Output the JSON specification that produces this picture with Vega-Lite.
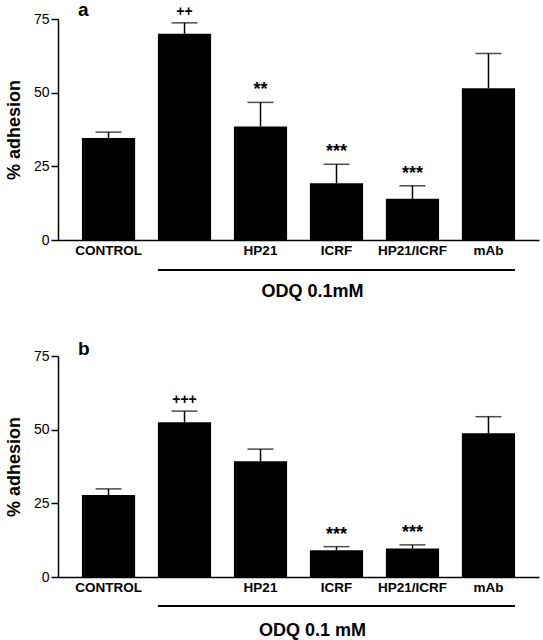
{
  "$schema": "https://vega.github.io/schema/vega-lite/v6.json",
  "padding": {"left": 5, "top": 1, "right": 5, "bottom": 5},
  "config": {
    "font": "Liberation Sans",
    "view": {"stroke": null}
  },
  "datasets": {
    "bars": [
      {"panel": "a", "group": "CONTROL", "value": 34.6, "hi": 36.6, "sig": ""},
      {"panel": "a", "group": "ODQ", "value": 70.0, "hi": 73.7, "sig": "++"},
      {"panel": "a", "group": "HP21", "value": 38.5, "hi": 46.7, "sig": "**"},
      {"panel": "a", "group": "ICRF", "value": 19.3, "hi": 25.7, "sig": "***"},
      {"panel": "a", "group": "HP21/ICRF", "value": 14.0, "hi": 18.4, "sig": "***"},
      {"panel": "a", "group": "mAb", "value": 51.5, "hi": 63.3, "sig": ""},
      {"panel": "b", "group": "CONTROL", "value": 27.8, "hi": 29.9, "sig": ""},
      {"panel": "b", "group": "ODQ", "value": 52.5, "hi": 56.3, "sig": "+++"},
      {"panel": "b", "group": "HP21", "value": 39.3, "hi": 43.4, "sig": ""},
      {"panel": "b", "group": "ICRF", "value": 9.1, "hi": 10.3, "sig": "***"},
      {"panel": "b", "group": "HP21/ICRF", "value": 9.7, "hi": 10.9, "sig": "***"},
      {"panel": "b", "group": "mAb", "value": 48.8, "hi": 54.4, "sig": ""}
    ],
    "odq": [
      {"panel": "a", "from": "ODQ", "to": "mAb", "center": "ICRF", "liney": -10.2, "texty": -17.6, "label": "ODQ 0.1mM"},
      {"panel": "b", "from": "ODQ", "to": "mAb", "center": "ICRF", "liney": -9.8, "texty": -18.3, "label": "ODQ 0.1 mM"}
    ],
    "letters": [
      {"panel": "a", "at": "CONTROL", "y": 76, "letter": "a"},
      {"panel": "b", "at": "CONTROL", "y": 75.2, "letter": "b"}
    ]
  },
  "vconcat": [
    {
      "width": 481,
      "height": 221,
      "layer": [
        {
          "data": {"name": "bars"},
          "transform": [{"filter": "datum.panel == 'a'"}],
          "mark": {"type": "bar", "color": "black"},
          "encoding": {
            "x": {"field": "group", "type": "nominal",
              "scale": {"domain": ["CONTROL", "ODQ", "HP21", "ICRF", "HP21/ICRF", "mAb"], "paddingInner": 0.3, "paddingOuter": 0.315},
              "axis": {"title": null, "ticks": false, "labelAngle": 0, "labelFontSize": 13.5, "labelFontWeight": "bold", "labelColor": "black", "labelPadding": 3, "domainColor": "black", "domainWidth": 1.5, "labelExpr": "datum.value == 'ODQ' ? '' : datum.value"}},
            "y": {"field": "value", "type": "quantitative",
              "scale": {"domain": [0, 75], "nice": false},
              "axis": {"values": [0, 25, 50, 75], "grid": false, "title": "% adhesion", "titleFontSize": 18, "titleFontWeight": "bold", "titleColor": "black", "titlePadding": 10, "labelFontSize": 14, "labelColor": "black", "labelPadding": 2, "tickSize": 7, "tickColor": "black", "tickWidth": 1.5, "domainColor": "black", "domainWidth": 1.5}}
          }
        },
        {
          "data": {"name": "bars"},
          "transform": [{"filter": "datum.panel == 'a'"}],
          "mark": {"type": "rule", "color": "black", "strokeWidth": 1.5},
          "encoding": {"x": {"field": "group", "type": "nominal"}, "y": {"field": "value", "type": "quantitative"}, "y2": {"field": "hi"}}
        },
        {
          "data": {"name": "bars"},
          "transform": [{"filter": "datum.panel == 'a'"}],
          "mark": {"type": "tick", "color": "black", "size": 26, "thickness": 1.5},
          "encoding": {"x": {"field": "group", "type": "nominal"}, "y": {"field": "hi", "type": "quantitative"}}
        },
        {
          "data": {"name": "bars"},
          "transform": [{"filter": "datum.panel == 'a' && datum.sig != ''"}],
          "mark": {"type": "text", "color": "black", "fontWeight": "bold", "baseline": "alphabetic", "dy": -7},
          "encoding": {"x": {"field": "group", "type": "nominal"}, "y": {"field": "hi", "type": "quantitative"}, "text": {"field": "sig"},
            "size": {"condition": {"test": "indexof(datum.sig, '*') >= 0", "value": 18}, "value": 14}}
        },
        {
          "data": {"name": "odq"},
          "transform": [{"filter": "datum.panel == 'a'"}],
          "mark": {"type": "rule", "color": "black", "strokeWidth": 2},
          "encoding": {"x": {"field": "from", "type": "nominal", "bandPosition": 0}, "x2": {"field": "to", "bandPosition": 1}, "y": {"field": "liney", "type": "quantitative"}}
        },
        {
          "data": {"name": "odq"},
          "transform": [{"filter": "datum.panel == 'a'"}],
          "mark": {"type": "text", "color": "black", "fontWeight": "bold", "fontSize": 18, "baseline": "middle", "dx": -24},
          "encoding": {"x": {"field": "center", "type": "nominal"}, "y": {"field": "texty", "type": "quantitative"}, "text": {"field": "label"}}
        },
        {
          "data": {"name": "letters"},
          "transform": [{"filter": "datum.panel == 'a'"}],
          "mark": {"type": "text", "color": "black", "fontWeight": "bold", "fontSize": 19, "baseline": "alphabetic", "align": "left", "dx": -4},
          "encoding": {"x": {"field": "at", "type": "nominal", "bandPosition": 0}, "y": {"field": "y", "type": "quantitative"}, "text": {"field": "letter"}}
        }
      ]
    },
    {
      "width": 481,
      "height": 221,
      "layer": [
        {
          "data": {"name": "bars"},
          "transform": [{"filter": "datum.panel == 'b'"}],
          "mark": {"type": "bar", "color": "black"},
          "encoding": {
            "x": {"field": "group", "type": "nominal",
              "scale": {"domain": ["CONTROL", "ODQ", "HP21", "ICRF", "HP21/ICRF", "mAb"], "paddingInner": 0.3, "paddingOuter": 0.315},
              "axis": {"title": null, "ticks": false, "labelAngle": 0, "labelFontSize": 13.5, "labelFontWeight": "bold", "labelColor": "black", "labelPadding": 3, "domainColor": "black", "domainWidth": 1.5, "labelExpr": "datum.value == 'ODQ' ? '' : datum.value"}},
            "y": {"field": "value", "type": "quantitative",
              "scale": {"domain": [0, 75], "nice": false},
              "axis": {"values": [0, 25, 50, 75], "grid": false, "title": "% adhesion", "titleFontSize": 18, "titleFontWeight": "bold", "titleColor": "black", "titlePadding": 10, "labelFontSize": 14, "labelColor": "black", "labelPadding": 2, "tickSize": 7, "tickColor": "black", "tickWidth": 1.5, "domainColor": "black", "domainWidth": 1.5}}
          }
        },
        {
          "data": {"name": "bars"},
          "transform": [{"filter": "datum.panel == 'b'"}],
          "mark": {"type": "rule", "color": "black", "strokeWidth": 1.5},
          "encoding": {"x": {"field": "group", "type": "nominal"}, "y": {"field": "value", "type": "quantitative"}, "y2": {"field": "hi"}}
        },
        {
          "data": {"name": "bars"},
          "transform": [{"filter": "datum.panel == 'b'"}],
          "mark": {"type": "tick", "color": "black", "size": 26, "thickness": 1.5},
          "encoding": {"x": {"field": "group", "type": "nominal"}, "y": {"field": "hi", "type": "quantitative"}}
        },
        {
          "data": {"name": "bars"},
          "transform": [{"filter": "datum.panel == 'b' && datum.sig != ''"}],
          "mark": {"type": "text", "color": "black", "fontWeight": "bold", "baseline": "alphabetic", "dy": -7},
          "encoding": {"x": {"field": "group", "type": "nominal"}, "y": {"field": "hi", "type": "quantitative"}, "text": {"field": "sig"},
            "size": {"condition": {"test": "indexof(datum.sig, '*') >= 0", "value": 18}, "value": 14}}
        },
        {
          "data": {"name": "odq"},
          "transform": [{"filter": "datum.panel == 'b'"}],
          "mark": {"type": "rule", "color": "black", "strokeWidth": 2},
          "encoding": {"x": {"field": "from", "type": "nominal", "bandPosition": 0}, "x2": {"field": "to", "bandPosition": 1}, "y": {"field": "liney", "type": "quantitative"}}
        },
        {
          "data": {"name": "odq"},
          "transform": [{"filter": "datum.panel == 'b'"}],
          "mark": {"type": "text", "color": "black", "fontWeight": "bold", "fontSize": 18, "baseline": "middle", "dx": -24},
          "encoding": {"x": {"field": "center", "type": "nominal"}, "y": {"field": "texty", "type": "quantitative"}, "text": {"field": "label"}}
        },
        {
          "data": {"name": "letters"},
          "transform": [{"filter": "datum.panel == 'b'"}],
          "mark": {"type": "text", "color": "black", "fontWeight": "bold", "fontSize": 19, "baseline": "alphabetic", "align": "left", "dx": -4},
          "encoding": {"x": {"field": "at", "type": "nominal", "bandPosition": 0}, "y": {"field": "y", "type": "quantitative"}, "text": {"field": "letter"}}
        }
      ]
    }
  ],
  "spacing": 116,
  "bounds": "flush"
}
